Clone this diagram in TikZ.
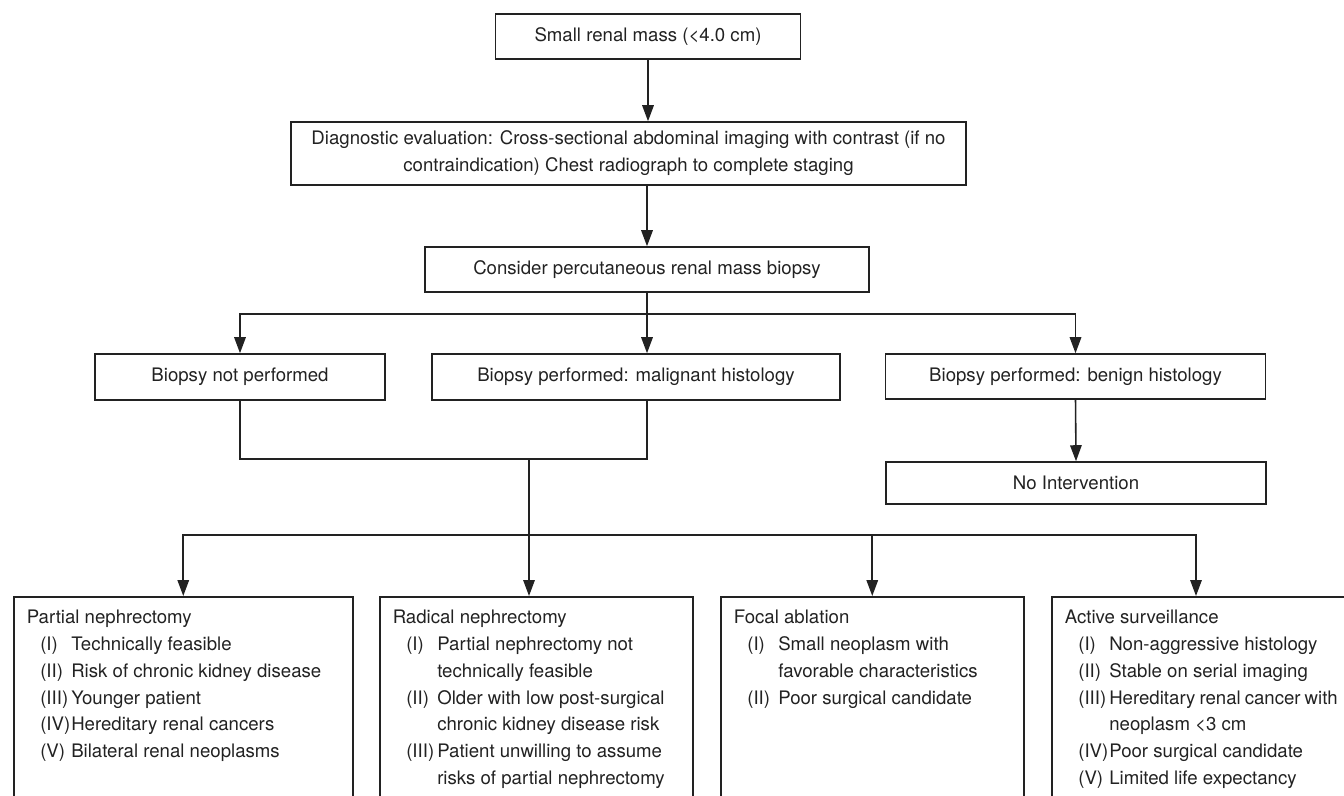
\documentclass[tikz,border=0pt]{standalone}
\usepackage{fontspec}
\setmainfont{TeX Gyre Heros}
\usetikzlibrary{arrows.meta}
\definecolor{inkgray}{HTML}{222222}
\newcommand{\optline}[2]{\par\hspace*{0.27cm}\makebox[0.62cm][l]{#1}#2}
\newcommand{\optcont}[1]{\par\hspace*{0.89cm}#1}
\tikzset{
  flowbox/.style={draw=inkgray, line width=0.9pt, inner sep=0pt, align=center, text=inkgray},
  listbox/.style={draw=inkgray, line width=0.9pt, inner sep=0.26cm, anchor=north west, text=inkgray},
  link/.style={draw=inkgray, line width=0.9pt, -{Triangle[length=0.32cm,width=0.23cm]}},
  plain/.style={draw=inkgray, line width=0.9pt}
}
\begin{document}
\begin{tikzpicture}[x=0.02cm, y=-0.02cm, font=\fontsize{10.6pt}{15.3pt}\selectfont]
    \clip (0,0) rectangle (1344,795);

    % top of the chart
    \node[flowbox, minimum width=6.1cm, minimum height=0.9cm] (mass) at (648,36.5) {Small renal mass (\textless4.0 cm)};
    \node[flowbox, minimum width=13.5cm, minimum height=1.26cm] (diag) at (628.5,153.5) {Diagnostic evaluation: Cross-sectional abdominal imaging with contrast (if no\\contraindication) Chest radiograph to complete staging};
    \node[flowbox, minimum width=8.88cm, minimum height=0.9cm] (biopsy) at (647,269.5) {Consider percutaneous renal mass biopsy};

    % biopsy results
    \node[flowbox, minimum width=5.8cm, minimum height=0.92cm] (notdone) at (240,377) {Biopsy not performed};
    \node[flowbox, minimum width=8.16cm, minimum height=0.92cm] (malign) at (636,377) {Biopsy performed: malignant histology};
    \node[flowbox, minimum width=7.6cm, minimum height=0.9cm] (benign) at (1075.5,376.5) {Biopsy performed: benign histology};
    \node[flowbox, minimum width=7.6cm, minimum height=0.84cm] (nointerv) at (1076,483) {No Intervention};

    % treatment options (open at the bottom)
    \node[listbox] (partial) at (13,596) {\begin{minipage}[t][3.85cm][t]{6.26cm}
      Partial nephrectomy
      \optline{(I)}{Technically feasible}
      \optline{(II)}{Risk of chronic kidney disease}
      \optline{(III)}{Younger patient}
      \optline{(IV)}{Hereditary renal cancers}
      \optline{(V)}{Bilateral renal neoplasms}
    \end{minipage}};
    \node[listbox] (radical) at (379,596) {\begin{minipage}[t][3.85cm][t]{5.74cm}
      Radical nephrectomy
      \optline{(I)}{Partial nephrectomy not}
      \optcont{technically feasible}
      \optline{(II)}{Older with low post-surgical}
      \optcont{chronic kidney disease risk}
      \optline{(III)}{Patient unwilling to assume}
      \optcont{risks of partial nephrectomy}
    \end{minipage}};
    \node[listbox] (focal) at (720,596) {\begin{minipage}[t][3.85cm][t]{5.54cm}
      Focal ablation
      \optline{(I)}{Small neoplasm with}
      \optcont{favorable characteristics}
      \optline{(II)}{Poor surgical candidate}
    \end{minipage}};
    \node[listbox] (active) at (1051,596) {\begin{minipage}[t][3.85cm][t]{5.46cm}
      Active surveillance
      \optline{(I)}{Non-aggressive histology}
      \optline{(II)}{Stable on serial imaging}
      \optline{(III)}{Hereditary renal cancer with}
      \optcont{neoplasm \textless3 cm}
      \optline{(IV)}{Poor surgical candidate}
      \optline{(V)}{Limited life expectancy}
    \end{minipage}};

    % junction points
    \coordinate (split) at (647,314);
    \coordinate (mergeR) at (647,459);
    \coordinate (merge) at (529,459);
    \coordinate (fan) at (529,535);
    \coordinate (activetop) at (1196,596);

    % connectors
    \draw[link] (mass.south) -- (mass.south |- diag.north);
    \draw[link] (biopsy.north |- diag.south) -- (biopsy.north);
    \draw[plain] (biopsy.south) -- (split);
    \draw[link] (split) -| (notdone.north);
    \draw[link] (split) -- (split |- malign.north);
    \draw[link] (split) -| (benign.north);
    \draw[link] (benign.south) -- (nointerv.north);
    \draw[plain] (notdone.south) |- (mergeR) -- (mergeR |- malign.south);
    \draw[link] (merge) -- (merge |- radical.north);
    \draw[link] (fan) -| (partial.north);
    \draw[link] (fan) -| (focal.north);
    \draw[link] (fan) -| (activetop);
\end{tikzpicture}
\end{document}
